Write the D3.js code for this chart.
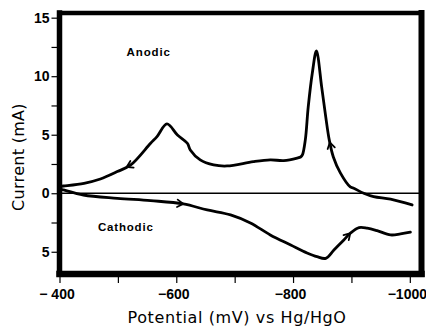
<!DOCTYPE html>
<html>
<head>
<meta charset="utf-8">
<script src="https://cdn.jsdelivr.net/npm/d3@7/dist/d3.min.js"></script>
<style>
  html, body { margin: 0; padding: 0; background: #fff; }
  svg { display: block; }
</style>
</head>
<body>
<svg id="chart" width="426" height="328"></svg>
<script>
// Cyclic voltammogram: potential (mV vs Hg/HgO) and current (mA)
const anodicPotential = [-400, -407, -442, -470, -499, -522, -556, -567, -584, -602, -619, -624, -641, -664, -687, -732, -761, -784, -807, -813, -816, -821, -826, -833, -840, -849, -856, -862, -869, -881, -898, -903, -921, -938, -967, -1004];
const anodicCurrent   = [0.58, 0.62, 0.85, 1.22, 1.85, 2.42, 4.27, 4.84, 5.92, 4.98, 4.27, 3.70, 2.85, 2.42, 2.33, 2.70, 2.85, 2.79, 3.0, 3.10, 3.27, 4.56, 7.38, 10.28, 12.16, 9.09, 6.52, 4.56, 3.10, 1.74, 0.54, 0.45, 0.0, -0.29, -0.51, -1.0];

const cathodicPotential = [-400, -407, -441, -499, -556, -612, -653, -693, -727, -761, -796, -824, -841, -856, -870, -887, -898, -913, -927, -944, -967, -984, -1001];
const cathodicCurrent   = [0.37, 0.28, -0.15, -0.43, -0.63, -0.91, -1.43, -1.85, -2.54, -3.56, -4.42, -5.10, -5.42, -5.56, -4.85, -3.99, -3.42, -2.94, -2.99, -3.20, -3.56, -3.48, -3.33];

// Sweep-direction arrows: potential where drawn, +1 = towards more negative potential
const anodicArrows   = [{ at: -515, dir: -1 }, { at: -863, dir: -1 }];
const cathodicArrows = [{ at: -612, dir: 1 }, { at: -898, dir: 1 }];

const xTickValues = [-400, -500, -600, -700, -800, -900, -1000];
const xTickLabels = { "-400": "\u2212 400", "-600": "\u2212600", "-800": "\u2212800", "-1000": "\u22121000" };
const yTickValues = [-5, -2.5, 0, 2.5, 5, 7.5, 10, 12.5, 15];
const yTickLabels = { "-5": "5", "0": "0", "5": "5", "10": "10", "15": "15" };

const svg = d3.select("#chart");
const plotLeft = 59.5, plotRight = 421.5, plotTop = 13, plotBottom = 274;

const x = d3.scaleLinear().domain([-400, -1020]).range([plotLeft, plotRight]);
const y = d3.scaleLinear().domain([-6.9, 15.4]).range([plotBottom, plotTop]);

// zero-current baseline
svg.append("line")
  .attr("x1", plotLeft).attr("x2", plotRight)
  .attr("y1", y(0)).attr("y2", y(0))
  .attr("stroke", "#000").attr("stroke-width", 1.3);

const line = d3.line()
  .x(d => x(d[0])).y(d => y(d[1]))
  .curve(d3.curveCatmullRom.alpha(0.5));

const anodic = anodicPotential.map((p, i) => [p, anodicCurrent[i]]);
const cathodic = cathodicPotential.map((p, i) => [p, cathodicCurrent[i]]);

[anodic, cathodic].forEach(s => {
  svg.append("path")
    .datum(s)
    .attr("d", line)
    .attr("fill", "none")
    .attr("stroke", "#000")
    .attr("stroke-width", 2.8)
    .attr("stroke-linejoin", "round")
    .attr("stroke-linecap", "round");
});

// point on a series at a potential, by linear interpolation
function valueAt(series, p) {
  for (let i = 0; i < series.length - 1; i++) {
    const a = series[i], b = series[i + 1];
    if (p <= a[0] && p >= b[0]) {
      const t = (p - a[0]) / (b[0] - a[0]);
      return a[1] + t * (b[1] - a[1]);
    }
  }
  return series[series.length - 1][1];
}

function drawArrows(series, arrows) {
  arrows.forEach(a => {
    const px = x(a.at), py = y(valueAt(series, a.at));
    const p2 = a.at + a.dir * 4;   // a point slightly behind along the sweep
    const bx = x(p2), by = y(valueAt(series, p2));
    const ang = Math.atan2(py - by, px - bx);
    const len = 7, spread = 0.55;
    const pts = [
      [px - len * Math.cos(ang - spread), py - len * Math.sin(ang - spread)],
      [px, py],
      [px - len * Math.cos(ang + spread), py - len * Math.sin(ang + spread)]
    ];
    svg.append("path")
      .attr("d", d3.line()(pts))
      .attr("fill", "none")
      .attr("stroke", "#000")
      .attr("stroke-width", 1.8)
      .attr("stroke-linecap", "round")
      .attr("stroke-linejoin", "miter");
  });
}
drawArrows(anodic, anodicArrows);
drawArrows(cathodic, cathodicArrows);

// axes with outward ticks
const xAxis = d3.axisBottom(x)
  .tickValues(xTickValues)
  .tickSize(6)
  .tickFormat(d => xTickLabels[d] || "");
const gx = svg.append("g").attr("transform", `translate(0,${plotBottom + 3})`).call(xAxis);
gx.select(".domain").remove();
gx.selectAll(".tick line").attr("stroke", "#000").attr("stroke-width", 1.2);
gx.selectAll(".tick text")
  .attr("dy", "0.95em")
  .attr("dx", "-3px")
  .style("font-family", "'Liberation Sans', Arial, sans-serif")
  .style("font-size", "14px")
  .style("font-weight", "bold")
  .attr("fill", "#000");

const yAxis = d3.axisLeft(y)
  .tickValues(yTickValues)
  .tickSize(6)
  .tickPadding(2)
  .tickFormat(d => yTickLabels[d] || "");
const gy = svg.append("g").attr("transform", `translate(${plotLeft - 2},0)`).call(yAxis);
gy.select(".domain").remove();
gy.selectAll(".tick line").attr("stroke", "#000").attr("stroke-width", 1.2);
gy.selectAll(".tick text")
  .style("font-family", "'Liberation Sans', Arial, sans-serif")
  .style("font-size", "14px")
  .style("font-weight", "bold")
  .attr("fill", "#000");

// heavy frame
const frame = svg.append("g").attr("stroke", "#000").attr("stroke-linecap", "square");
frame.append("line").attr("x1", plotLeft).attr("x2", plotRight).attr("y1", plotTop).attr("y2", plotTop).attr("stroke-width", 4.5);
frame.append("line").attr("x1", plotLeft).attr("x2", plotRight).attr("y1", plotBottom).attr("y2", plotBottom).attr("stroke-width", 6.5);
frame.append("line").attr("x1", plotLeft).attr("x2", plotLeft).attr("y1", plotTop).attr("y2", plotBottom).attr("stroke-width", 5.5);
frame.append("line").attr("x1", plotRight).attr("x2", plotRight).attr("y1", plotTop).attr("y2", plotBottom).attr("stroke-width", 6);

// annotations
const noteFamily = "'Liberation Sans', Arial, sans-serif";
svg.append("text").text("Anodic")
  .attr("x", 126.5).attr("y", 56)
  .style("font-family", noteFamily).style("font-size", "11.5px")
  .style("font-weight", "bold").style("letter-spacing", "0.9px");
svg.append("text").text("Cathodic")
  .attr("x", 98).attr("y", 231)
  .style("font-family", noteFamily).style("font-size", "11.5px")
  .style("font-weight", "bold").style("letter-spacing", "0.8px");

// axis titles
svg.append("text").text("Potential (mV) vs Hg/HgO")
  .attr("x", 237).attr("y", 323)
  .attr("text-anchor", "middle")
  .style("font-family", "'DejaVu Sans', sans-serif")
  .style("font-size", "16px")
  .style("letter-spacing", "0.6px");
svg.append("text").text("Current (mA)")
  .attr("transform", "translate(24,157) rotate(-90)")
  .attr("text-anchor", "middle")
  .style("font-family", "'DejaVu Sans', sans-serif")
  .style("font-size", "16px")
  .style("letter-spacing", "0.3px");
</script>
</body>
</html>
